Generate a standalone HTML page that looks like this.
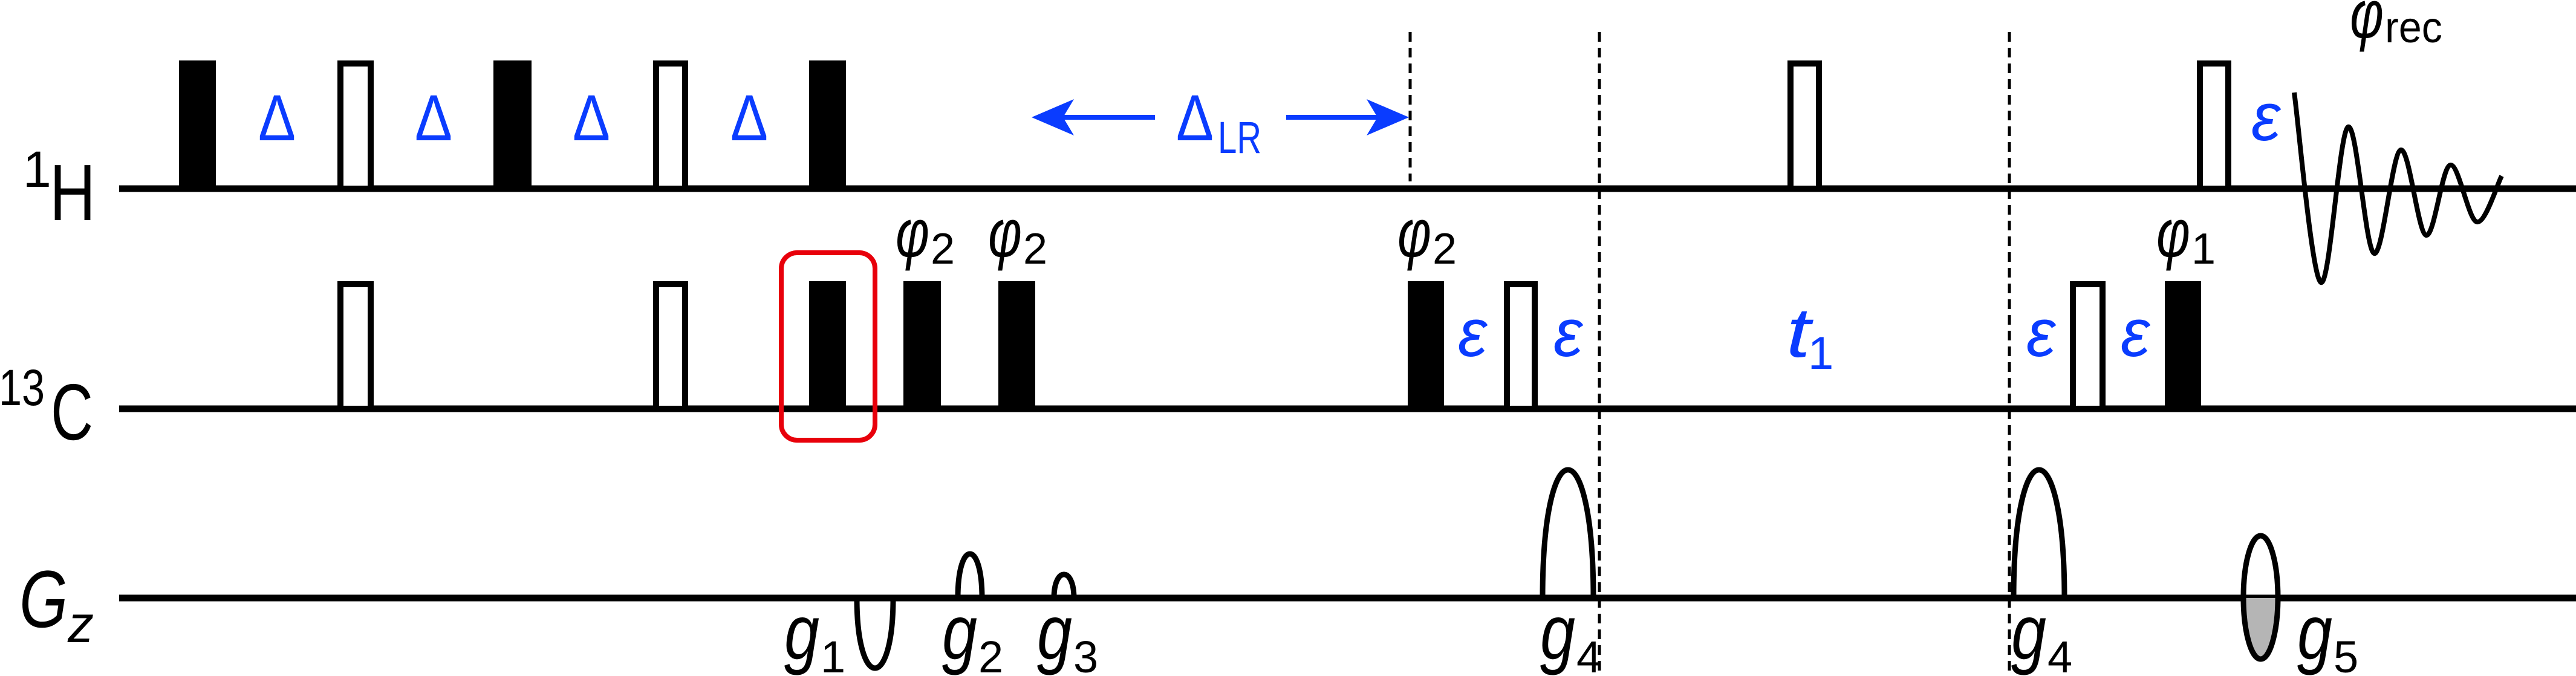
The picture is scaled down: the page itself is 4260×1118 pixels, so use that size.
<!DOCTYPE html>
<html><head><meta charset="utf-8"><style>
html,body{margin:0;padding:0;background:#fff;}
svg{display:block;}
text{font-family:"Liberation Sans","DejaVu Sans",sans-serif;}
</style></head><body>
<svg id="seq" xmlns="http://www.w3.org/2000/svg" width="4260" height="1118" viewBox="0 0 4260 1118">
<g>
  <text x="38" y="309" font-size="84">1</text>
  <text x="82" y="364" font-size="132" textLength="76" lengthAdjust="spacingAndGlyphs">H</text>
  <text x="-2" y="670" font-size="84" textLength="76" lengthAdjust="spacingAndGlyphs">13</text>
  <text x="84" y="727" font-size="132" textLength="70" lengthAdjust="spacingAndGlyphs">C</text>
  <text x="32" y="1037" font-size="134" font-style="italic" textLength="80" lengthAdjust="spacingAndGlyphs">G</text>
  <text x="112" y="1062" font-size="86" font-style="italic">z</text>
</g>
<g id="lines"></g>
<g id="marks"></g>
<g id="labels"></g>
</svg>
<script>
const NS="http://www.w3.org/2000/svg";
// channel baselines
const channelNames=["h1","c13","gz"];
const channelY=[312,676,989];
// H pulses: [start,end,filled]
const hPulseStart=[296,558,816,1080,1338,2956,3633];
const hPulseEnd=[357,618,879,1138,1399,3013,3690];
const hPulseFilled=[1,0,1,0,1,0,0];
const cPulseStart=[558,1080,1338,1494,1651,2328,2487,3423,3580];
const cPulseEnd=[618,1138,1399,1556,1712,2388,2543,3482,3640];
const cPulseFilled=[0,0,1,1,1,1,0,0,1];
const pulseTop=[100,465];
// gradients: start, end, peak height
const gradStart=[1413,1580,1739,2547,3326];
const gradEnd=[1481,1628,1780,2639,3418];
const gradPeak=[1105,916,950,777,777];
// dashed markers
const dashX=[2332,2645,3323];
const dashEnd=[300,1118,1118];
// FID points
const fidX=[3794,3838,3883,3926,3970,4012,4052,4096,4137];
const fidY=[153,467,210,419,248,389,273,367,291];

function mk(tag,attrs,parent){const e=document.createElementNS(NS,tag);for(const k in attrs)e.setAttribute(k,attrs[k]);parent.appendChild(e);return e;}
const lines=document.getElementById('lines'),marks=document.getElementById('marks');

channelY.forEach((y,i)=>{
  const l=mk('line',{x1:197,x2:4260,y1:y,y2:y,stroke:'#000','stroke-width':11},lines);
  
  
});
dashX.forEach((x,i)=>{
  const l=mk('line',{x1:x,x2:x,y1:53,y2:dashEnd[i],stroke:'#000','stroke-width':5,'stroke-dasharray':'16 10'},lines);
  
  
});
function drawPulses(starts,ends,filled,top,base,ch){
  starts.forEach((s,i)=>{
    const w=ends[i]-s;
    let r;
    if(filled[i]) r=mk('rect',{x:s,y:top,width:w,height:base-top,fill:'#000'},marks);
    else r=mk('rect',{x:s+5,y:top+5,width:w-10,height:base-top-5,fill:'#fff',stroke:'#000','stroke-width':10},marks);
    
    
  });
}
drawPulses(hPulseStart,hPulseEnd,hPulseFilled,pulseTop[0],channelY[0],'h1');
drawPulses(cPulseStart,cPulseEnd,cPulseFilled,pulseTop[1],channelY[1],'c13');

const gb=channelY[2];
gradStart.forEach((s,i)=>{
  const e=gradEnd[i],cy=gb+(gradPeak[i]-gb)*4/3;
  const p=mk('path',{d:`M${s+4},${gb} C${s+4},${cy} ${e-4},${cy} ${e-4},${gb}`,fill:'none',stroke:'#000','stroke-width':9},marks);
  
  
});
const g5=mk('g',{},marks);


mk('path',{d:`M3710,${gb} A28.5,102 0 0 0 3767,${gb} Z`,fill:'#b5b5b5'},g5);
mk('ellipse',{cx:3738.5,cy:988,rx:28.5,ry:102,fill:'none',stroke:'#000','stroke-width':9},g5);

let d=`M${fidX[0]},${fidY[0]}`;
for(let i=0;i<fidX.length-1;i++){
  const p0=i>0?[fidX[i-1],fidY[i-1]]:[fidX[i],fidY[i]];
  const p1=[fidX[i],fidY[i]],p2=[fidX[i+1],fidY[i+1]];
  const p3=i+2<fidX.length?[fidX[i+2],fidY[i+2]]:p2;
  const c1=[p1[0]+(p2[0]-p0[0])/6,p1[1]+(p2[1]-p0[1])/6];
  const c2=[p2[0]-(p3[0]-p1[0])/6,p2[1]-(p3[1]-p1[1])/6];
  d+=` C${c1[0]},${c1[1]} ${c2[0]},${c2[1]} ${p2[0]},${p2[1]}`;
}
const fid=mk('path',{d:d,fill:'none',stroke:'#000','stroke-width':8,'stroke-linejoin':'round'},marks);



const box=mk('rect',{x:1292,y:418,width:155,height:310,rx:26,fill:'none',stroke:'#e8000b','stroke-width':8},marks);



const arr=mk('g',{fill:'#0a3cff',stroke:'#0a3cff'},marks);


mk('line',{x1:1740,x2:1910,y1:194,y2:194,'stroke-width':8},arr);
mk('polygon',{points:'1706,194 1776,164 1758,194 1776,224',stroke:'none'},arr);
mk('line',{x1:2127,x2:2295,y1:194,y2:194,'stroke-width':8},arr);
mk('polygon',{points:'2330,194 2260,164 2278,194 2260,224',stroke:'none'},arr);

const L=document.getElementById('labels');
const B='#0a3cff';
function txt(name,x,y,size,str,opt){
  const t=document.createElementNS(NS,'text');
  t.setAttribute('x',x);t.setAttribute('y',y);t.setAttribute('font-size',size);
  t.setAttribute('fill',(opt&&opt.fill)||'#000');
  if(opt&&opt.italic)t.setAttribute('font-style','italic');
  if(opt&&opt.anchor)t.setAttribute('text-anchor',opt.anchor);
  if(opt&&opt.len){t.setAttribute('textLength',opt.len);t.setAttribute('lengthAdjust','spacingAndGlyphs');}
  t.textContent=str;
  
  
  L.appendChild(t);return t;
}
[458,717,978,1239].forEach((x,i)=>txt('delta-label-'+(i+1),x,232,108,'Δ',{fill:B,anchor:'middle',len:62}));
txt('delta-lr-label',1945,232,108,'Δ',{fill:B,len:62});
txt('delta-lr-sub',2014,253,74,'LR',{fill:B,len:72});
[[1481,'2'],[1634,'2'],[2311,'2'],[3566,'1']].forEach((p,i)=>{
  txt('phase-label-'+(i+1),p[0],424,112,'φ',{italic:true,len:56});
  txt('phase-sub-'+(i+1),p[0]+58,436,72,p[1]);
});
txt('phase-rec-label',3886,62,112,'φ',{italic:true,len:56});
txt('phase-rec-sub',3944,70,72,'rec',{len:95});
[[3747,232],[2435,589],[2593,589],[3375,589],[3531,589]].forEach((p,i)=>txt('epsilon-label-'+(i+1),p[0],p[1],112,'ε',{fill:B,anchor:'middle',italic:true,len:48}));
txt('t1-label',2954,590,116,'t',{fill:B,italic:true,len:40});
txt('t1-sub',2990,610,76,'1',{fill:B});
[[1297,'1'],[1558,'2'],[1715,'3'],[2547,'4'],[3326,'4'],[3799,'5']].forEach((p,i)=>{
  txt('gradient-label-'+(i+1),p[0],1090,128,'g',{italic:true,len:58});
  txt('gradient-sub-'+(i+1),p[0]+60,1112,74,p[1]);
});
</script>
</body></html>
